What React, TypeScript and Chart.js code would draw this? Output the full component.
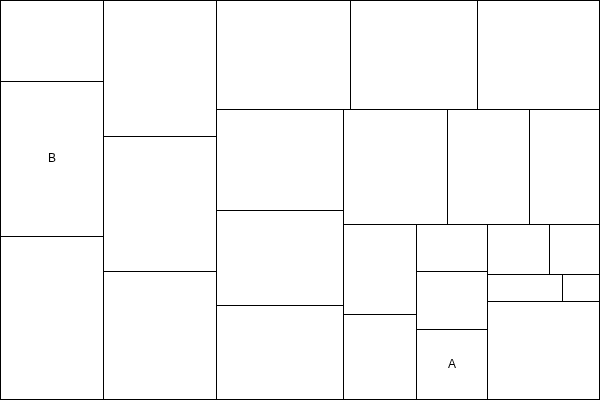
import React, { useEffect, useRef } from "react";
import { Chart, registerables } from "chart.js";

Chart.register(...registerables);

// Cell values, in layout order
const values: number[] = [
  8343, 15965, 16789,
  15368, 15255, 14464,
  14606, 13843, 13298,
  12827, 12065, 11938,
  11960, 9430, 8050,
  6570, 6205,
  3337, 4118, 4970,
  3100, 2500,
  2025, 999,
  10976,
];

// Cell labels (most cells are unlabeled)
const labels: string[] = [
  "", "B", "",
  "", "", "",
  "", "", "",
  "", "", "",
  "", "", "",
  "", "",
  "", "", "A",
  "", "",
  "", "",
  "",
];

const SPACE_W = 599;
const SPACE_H = 399;

type Rect = { x0: number; y0: number; x1: number; y1: number; i: number };

function squarify(vals: number[], x0: number, y0: number, x1: number, y1: number): Rect[] {
  const rects: Rect[] = [];
  const n = vals.length;
  let value = vals.reduce((a, b) => a + b, 0);
  let i0 = 0;
  let i1 = 0;
  while (i0 < n) {
    const dx = x1 - x0;
    const dy = y1 - y0;
    let sumValue = vals[i1++];
    let minValue = sumValue;
    let maxValue = sumValue;
    const alpha = Math.max(dy / dx, dx / dy) / value;
    let beta = sumValue * sumValue * alpha;
    let minRatio = Math.max(maxValue / beta, beta / minValue);
    for (; i1 < n; ++i1) {
      const nv = vals[i1];
      sumValue += nv;
      if (nv < minValue) minValue = nv;
      if (nv > maxValue) maxValue = nv;
      beta = sumValue * sumValue * alpha;
      const newRatio = Math.max(maxValue / beta, beta / minValue);
      if (newRatio > minRatio) {
        sumValue -= nv;
        break;
      }
      minRatio = newRatio;
    }
    if (dx < dy) {
      const h = value ? (dy * sumValue) / value : dy;
      let x = x0;
      for (let k = i0; k < i1; k++) {
        const w = (dx * vals[k]) / sumValue;
        rects.push({ x0: x, y0: y0, x1: x + w, y1: y0 + h, i: k });
        x += w;
      }
      y0 += h;
    } else {
      const w = value ? (dx * sumValue) / value : dx;
      let y = y0;
      for (let k = i0; k < i1; k++) {
        const h = (dy * vals[k]) / sumValue;
        rects.push({ x0: x0, y0: y, x1: x0 + w, y1: y + h, i: k });
        y += h;
      }
      x0 += w;
    }
    value -= sumValue;
    i0 = i1;
  }
  return rects;
}

const treemapPlugin = {
  id: "treemapCells",
  afterDatasetsDraw(chart: any) {
    const { ctx } = chart;
    const xs = chart.scales.x;
    const ys = chart.scales.y;
    const rects = squarify(values, 0, 0, SPACE_W, SPACE_H);
    ctx.save();
    ctx.strokeStyle = "#000000";
    ctx.lineWidth = 1;
    for (const r of rects) {
      const px0 = xs.getPixelForValue(r.x0);
      const px1 = xs.getPixelForValue(r.x1);
      const py0 = ys.getPixelForValue(r.y0);
      const py1 = ys.getPixelForValue(r.y1);
      ctx.strokeRect(px0, py0, px1 - px0, py1 - py0);
    }
    ctx.fillStyle = "#000000";
    ctx.font = '12px "Liberation Sans", Arial, sans-serif';
    ctx.textAlign = "center";
    ctx.textBaseline = "middle";
    for (const r of rects) {
      const label = labels[r.i];
      if (!label) continue;
      const cx = (xs.getPixelForValue(r.x0) + xs.getPixelForValue(r.x1)) / 2;
      const cy = (ys.getPixelForValue(r.y0) + ys.getPixelForValue(r.y1)) / 2;
      ctx.fillText(label, cx, cy);
    }
    ctx.restore();
  },
};

export default function App() {
  const ref = useRef<HTMLCanvasElement | null>(null);
  useEffect(() => {
    if (!ref.current) return;
    const chart = new Chart(ref.current, {
      type: "scatter",
      data: { datasets: [{ data: [] }] },
      options: {
        animation: false,
        responsive: false,
        devicePixelRatio: 1,
        layout: { padding: { left: 0.5, right: 0.5, top: 0.5, bottom: 0.5 } },
        plugins: { legend: { display: false }, tooltip: { enabled: false } },
        scales: {
          x: { type: "linear", min: 0, max: SPACE_W, display: false },
          y: { type: "linear", min: 0, max: SPACE_H, reverse: true, display: false },
        },
      },
      plugins: [treemapPlugin],
    } as any);
    return () => chart.destroy();
  }, []);
  return (
    <div style={{ position: "absolute", left: 0, top: 0, width: 600, height: 400, background: "#fff" }}>
      <canvas ref={ref} width={600} height={400} />
    </div>
  );
}
